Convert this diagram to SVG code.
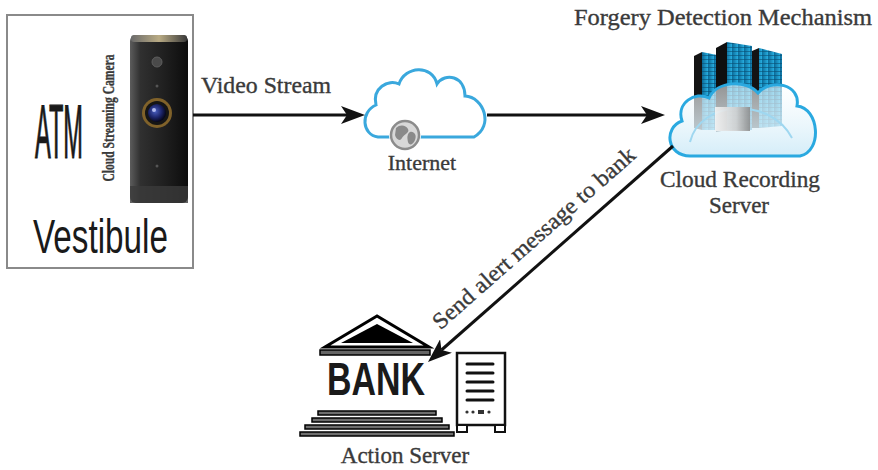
<svg xmlns="http://www.w3.org/2000/svg" width="878" height="470" viewBox="0 0 878 470">
  <style>
    .serif { font-family: "Liberation Serif", "Times New Roman", serif; fill: #3a3a3a; stroke: #3a3a3a; stroke-width: 0.35; }
    .sans { font-family: "Liberation Sans", Arial, sans-serif; fill: #1a1a1a; }
    .lbl { font-size: 23px; }
    .conn { stroke: #111; stroke-width: 3; fill: none; }
    .step { fill: #6e6e6e; stroke: #000; stroke-width: 1.5; }
    .shelf { stroke: #111; stroke-width: 3; stroke-linecap: round; }
  </style>
  <defs>
    <marker id="head" viewBox="0 0 24 18" refX="6" refY="9" markerWidth="24" markerHeight="18" markerUnits="userSpaceOnUse" orient="auto">
      <path d="M0,0 L24,9 L0,18 L6,9 Z" fill="#111"/>
    </marker>
    <linearGradient id="camBody" x1="0" y1="0" x2="1" y2="0">
      <stop offset="0" stop-color="#5c5c5c"/>
      <stop offset="0.18" stop-color="#303030"/>
      <stop offset="0.6" stop-color="#1f1f1f"/>
      <stop offset="1" stop-color="#0c0c0c"/>
    </linearGradient>
    <linearGradient id="camCap" x1="0" y1="0" x2="1" y2="0">
      <stop offset="0" stop-color="#6a6a6a"/>
      <stop offset="0.5" stop-color="#b9ab84"/>
      <stop offset="1" stop-color="#3a3a3a"/>
    </linearGradient>
    <radialGradient id="lensGlass" cx="0.4" cy="0.4" r="0.6">
      <stop offset="0" stop-color="#4a5fc0"/>
      <stop offset="0.6" stop-color="#1c2468"/>
      <stop offset="1" stop-color="#07071c"/>
    </radialGradient>
    <linearGradient id="rackBlue" x1="0" y1="0" x2="1" y2="0">
      <stop offset="0" stop-color="#0b6a98"/>
      <stop offset="1" stop-color="#27aee0"/>
    </linearGradient>
    <linearGradient id="cloudFill" x1="0" y1="0" x2="0" y2="1">
      <stop offset="0" stop-color="#ffffff" stop-opacity="0.55"/>
      <stop offset="1" stop-color="#d2ecf8" stop-opacity="0.95"/>
    </linearGradient>
    <linearGradient id="baseBox" x1="0" y1="0" x2="1" y2="0">
      <stop offset="0" stop-color="#f4f4f4"/>
      <stop offset="0.6" stop-color="#d0d0d0"/>
      <stop offset="1" stop-color="#8c8c8c"/>
    </linearGradient>
    <pattern id="rackLines" width="6" height="4" patternUnits="userSpaceOnUse">
      <rect width="6" height="4" fill="url(#rackBlue)"/>
      <rect y="3" width="6" height="1" fill="#0a4f72" opacity="0.6"/>
    </pattern>
  </defs>

  <!-- ATM vestibule with streaming camera -->
  <g id="vestibule">
    <rect x="7" y="15" width="186" height="253" fill="#fff" stroke="#8a8a8a" stroke-width="2"/>
    <text class="sans" x="35" y="158" font-size="76" textLength="48" lengthAdjust="spacingAndGlyphs" stroke="#1a1a1a" stroke-width="1.2">ATM</text>
    <text class="sans" x="33" y="253" font-size="49" textLength="135" lengthAdjust="spacingAndGlyphs" fill="#222">Vestibule</text>
    <text class="serif" transform="translate(114,118) rotate(-90)" text-anchor="middle" font-size="16" font-weight="bold" textLength="127" lengthAdjust="spacingAndGlyphs" fill="#2a2a2a">Cloud Streaming Camera</text>
    <!-- camera body -->
    <rect x="130" y="35" width="58" height="168" rx="6" fill="url(#camBody)"/>
    <rect x="131" y="35" width="56" height="7" rx="3" fill="url(#camCap)"/>
    <rect x="130" y="186" width="58" height="17" fill="#3b3b3b" opacity="0.8"/>
    <circle cx="157" cy="62" r="5" fill="#4a4a4a" stroke="#5e5e5e"/>
    <circle cx="157" cy="86" r="1.5" fill="#555"/>
    <circle cx="157" cy="166" r="1.5" fill="#555"/>
    <circle cx="157" cy="113" r="15" fill="#80622a"/>
    <circle cx="157" cy="113" r="12" fill="#151515"/>
    <circle cx="157" cy="113" r="9" fill="url(#lensGlass)"/>
    <circle cx="154" cy="110" r="2" fill="#cfd6ff" opacity="0.8"/>
  </g>

  <!-- Internet cloud -->
  <g id="internet">
    <path d="M378 137 C362 135 360 112 376 105 C372 88 388 79 399 84 C405 66 432 64 437 84 C445 72 465 76 465 96 C484 97 494 126 474 137 Z" fill="#fff" stroke="#3aa8dd" stroke-width="3"/>
    <circle cx="405" cy="135" r="16" fill="#fff"/>
    <circle cx="405" cy="135" r="14" fill="#d8d8d8" stroke="#8c8c8c" stroke-width="2.5"/>
    <path d="M396 128 C400 124 406 125 408 129 C410 133 404 134 402 138 C400 142 396 139 395 135 Z" fill="#8a8a8a"/>
    <path d="M410 132 C414 131 417 135 415 140 C413 145 409 146 408 142 C407 138 407 134 410 132 Z" fill="#8a8a8a"/>
    <text class="serif" x="422" y="170" text-anchor="middle" font-size="22" fill="#555" stroke="#555">Internet</text>
  </g>

  <!-- Cloud recording server -->
  <g id="cloud-server">
    <text class="serif lbl" x="723" y="25" text-anchor="middle" textLength="298" lengthAdjust="spacingAndGlyphs">Forgery Detection Mechanism</text>
    <!-- racks -->
    <polygon points="694,56 702,52 702,130 694,128" fill="#141414"/>
    <polygon points="702,52 717,55 717,130 702,130" fill="url(#rackLines)"/>
    <polygon points="752,51 759,48 759,128 752,128" fill="#141414"/>
    <polygon points="759,48 782,54 782,126 759,128" fill="url(#rackLines)"/>
    <polygon points="716,48 727,42 727,130 716,132" fill="#0f0f0f"/>
    <polygon points="727,42 752,46 752,130 727,130" fill="url(#rackLines)"/>
    <!-- cloud -->
    <path d="M690 156 C667 156 663 128 682 121 C676 103 695 91 709 98 C717 81 746 79 758 93 C771 78 801 84 797 106 C819 108 823 151 800 156 Z" fill="url(#cloudFill)" stroke="#2aa9e0" stroke-width="3"/>
    <path d="M690 142 C700 100 770 96 792 138" fill="none" stroke="#9fd7f0" stroke-width="2"/>
    <rect x="715" y="107" width="35" height="24" fill="url(#baseBox)" opacity="0.9"/>
    <text class="serif lbl" x="740" y="187" text-anchor="middle" textLength="160" lengthAdjust="spacingAndGlyphs">Cloud Recording</text>
    <text class="serif lbl" x="739" y="213" text-anchor="middle">Server</text>
  </g>

  <!-- Bank action server -->
  <g id="bank">
    <polygon points="377,316 325,347 429,347" fill="#fff" stroke="#000" stroke-width="3" stroke-linejoin="miter"/>
    <polygon points="377,324 341,343 413,343" fill="#000"/>
    <rect x="320" y="350" width="110" height="5" fill="#666" stroke="#000" stroke-width="1.5"/>
    <text class="sans" x="327" y="395" font-size="46" font-weight="bold" textLength="98" lengthAdjust="spacingAndGlyphs" fill="#000">BANK</text>
    <rect class="step" x="318" y="411" width="118" height="4"/>
    <rect class="step" x="312" y="418" width="130" height="4"/>
    <rect class="step" x="305" y="425" width="144" height="4"/>
    <rect class="step" x="300" y="432" width="154" height="4"/>
    <!-- server cabinet -->
    <rect x="457" y="353" width="48" height="72" fill="#fff" stroke="#111" stroke-width="2.5"/>
    <rect x="457" y="425" width="10" height="7" fill="#fff" stroke="#111" stroke-width="2"/>
    <rect x="495" y="425" width="10" height="7" fill="#fff" stroke="#111" stroke-width="2"/>
    <line class="shelf" x1="467" y1="364" x2="493" y2="364"/>
    <line class="shelf" x1="467" y1="373" x2="493" y2="373"/>
    <line class="shelf" x1="467" y1="382" x2="493" y2="382"/>
    <line class="shelf" x1="467" y1="391" x2="493" y2="391"/>
    <line class="shelf" x1="467" y1="400" x2="493" y2="400"/>
    <circle cx="467" cy="412" r="1.6" fill="#333"/>
    <circle cx="473" cy="412" r="1.6" fill="#333"/>
    <rect x="478" y="410" width="6" height="4" fill="#333"/>
    <circle cx="489" cy="412" r="1.6" fill="#333"/>
    <text class="serif lbl" x="405" y="463" text-anchor="middle">Action Server</text>
  </g>

  <!-- connectors -->
  <g id="connectors">
    <line class="conn" x1="193" y1="115" x2="347" y2="115" marker-end="url(#head)"/>
    <line class="conn" x1="487" y1="115" x2="647" y2="115" marker-end="url(#head)"/>
    <line class="conn" x1="673" y1="146" x2="441.5" y2="350" marker-end="url(#head)"/>
    <text class="serif lbl" x="266" y="93" text-anchor="middle" textLength="130" lengthAdjust="spacingAndGlyphs">Video Stream</text>
    <text class="serif lbl" transform="translate(546,252) rotate(-41.4)" x="0" y="-11" text-anchor="middle" textLength="262" lengthAdjust="spacingAndGlyphs">Send alert message to bank</text>
  </g>
</svg>
